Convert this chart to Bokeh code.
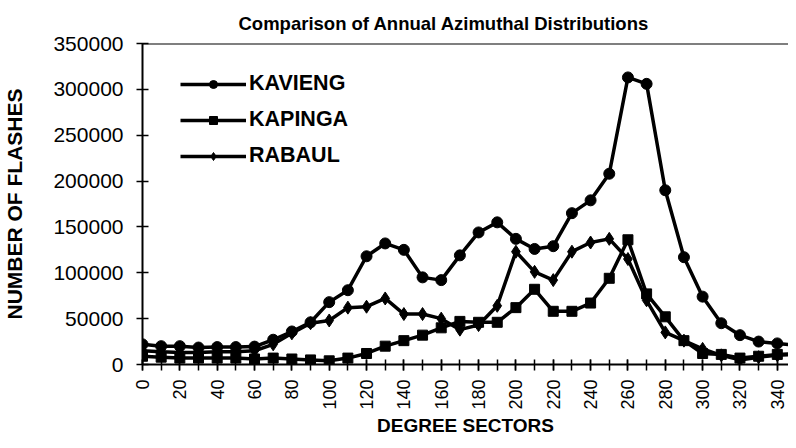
import numpy as np
from bokeh.plotting import figure
from bokeh.models import (Range1d, SingleIntervalTicker, FixedTicker, Legend, LegendItem,
                          Span, BasicTickFormatter)
from bokeh.embed import file_html
from bokeh.resources import INLINE

# ---- data ----
degrees = list(range(0, 360, 10))
kavieng = [22000, 20000, 20000, 18500, 19000, 19000, 19500, 27000, 36000, 46000,
           68000, 81000, 118000, 132000, 125000, 95000, 92000, 119000, 144000, 155000,
           137000, 126000, 129000, 165000, 179000, 208000, 313000, 306000, 190000, 117000,
           74000, 45000, 32000, 25000, 23000, 21000]
kapinga = [9000, 8000, 7000, 7000, 7000, 7000, 6000, 7000, 6000, 5000,
           4000, 7000, 12000, 20000, 26000, 32000, 40000, 47000, 46000, 46000,
           62000, 82000, 58000, 58000, 67000, 94000, 136000, 77000, 52000, 26000,
           12000, 11000, 7000, 9000, 11000, 12000]
rabaul = [15000, 14000, 13000, 13000, 14000, 14000, 15000, 22000, 34000, 45000,
          48000, 62000, 63000, 72000, 55000, 55000, 50000, 38000, 43000, 64000,
          123000, 101000, 92000, 123000, 133000, 137000, 115000, 70000, 35000, 26000,
          17000, 10000, 5000, 8000, 10000, 11000]
y_ticks = [0, 50000, 100000, 150000, 200000, 250000, 300000, 350000]
series_names = ["KAVIENG", "KAPINGA", "RABAUL"]

FONT = "Liberation Sans"

p = figure(width=788, height=440, output_backend="svg", toolbar_location=None,
           x_range=Range1d(0, 346), y_range=Range1d(0, 350000),
           min_border_left=140, min_border_right=0, min_border_top=43,
           min_border_bottom=76,
           title="Comparison of Annual Azimuthal Distributions")
p.outline_line_color = None
p.xgrid.grid_line_color = None
p.ygrid.grid_line_color = None
p.background_fill_color = "white"

p.title.text_font = FONT
p.title.text_font_size = "18.5px"
p.title.text_font_style = "bold"
p.title.text_color = "black"
p.title.align = "left"
p.title.offset = 96
p.title.standoff = 19

# top border line
p.add_layout(Span(location=350000, dimension="width", line_color="black", line_width=2))

# y axis
ya = p.yaxis[0]
ya.ticker = FixedTicker(ticks=y_ticks)
ya.formatter = BasicTickFormatter(use_scientific=False)
ya.axis_line_width = 2
ya.major_tick_in = 6
ya.major_tick_out = 6
ya.major_tick_line_width = 1.5
ya.minor_tick_line_color = None
ya.major_label_standoff = 13
ya.major_label_text_font = FONT
ya.major_label_text_font_size = "21px"
ya.major_label_text_color = "black"
ya.axis_label = "NUMBER OF FLASHES"
ya.axis_label_text_font = FONT
ya.axis_label_text_font_size = "21px"
ya.axis_label_text_font_style = "bold"
ya.axis_label_text_color = "black"
ya.axis_label_standoff = 24

# x axis
xa = p.xaxis[0]
xa.ticker = SingleIntervalTicker(interval=20, num_minor_ticks=2)
xa.axis_line_width = 2
xa.major_tick_in = 5
xa.major_tick_out = 6
xa.minor_tick_in = 5
xa.minor_tick_out = 6
xa.major_tick_line_width = 1.5
xa.minor_tick_line_width = 1.5
xa.minor_tick_line_color = "black"
xa.major_label_orientation = np.pi / 2
xa.major_label_standoff = 9
xa.major_label_text_font = FONT
xa.major_label_text_font_size = "18px"
xa.major_label_text_color = "black"
xa.axis_label = "DEGREE SECTORS"
xa.axis_label_text_font = FONT
xa.axis_label_text_font_size = "19px"
xa.axis_label_text_font_style = "bold"
xa.axis_label_text_color = "black"
xa.axis_label_standoff = 2

# series
l1 = p.line(degrees, kavieng, line_width=3.5, line_color="black")
s1 = p.scatter(degrees, kavieng, marker="circle", size=11, color="black")
l2 = p.line(degrees, kapinga, line_width=3.5, line_color="black")
s2 = p.scatter(degrees, kapinga, marker="square", size=10, color="black")
l3 = p.line(degrees, rabaul, line_width=3.5, line_color="black")
s3 = p.scatter(degrees, rabaul, marker="diamond", size=13, color="black")

legend = Legend(items=[LegendItem(label=series_names[0], renderers=[l1, s1]),
                       LegendItem(label=series_names[1], renderers=[l2, s2]),
                       LegendItem(label=series_names[2], renderers=[l3, s3])],
                location=(38, 196), orientation="vertical",
                border_line_color=None, background_fill_alpha=0,
                padding=0, margin=0, spacing=11, glyph_width=66, glyph_height=20,
                label_height=20, label_standoff=3,
                label_text_font=FONT, label_text_font_size="21.5px",
                label_text_font_style="bold", label_text_color="black")
p.add_layout(legend, "center")

open("out.html", "w").write(file_html(p, INLINE))
